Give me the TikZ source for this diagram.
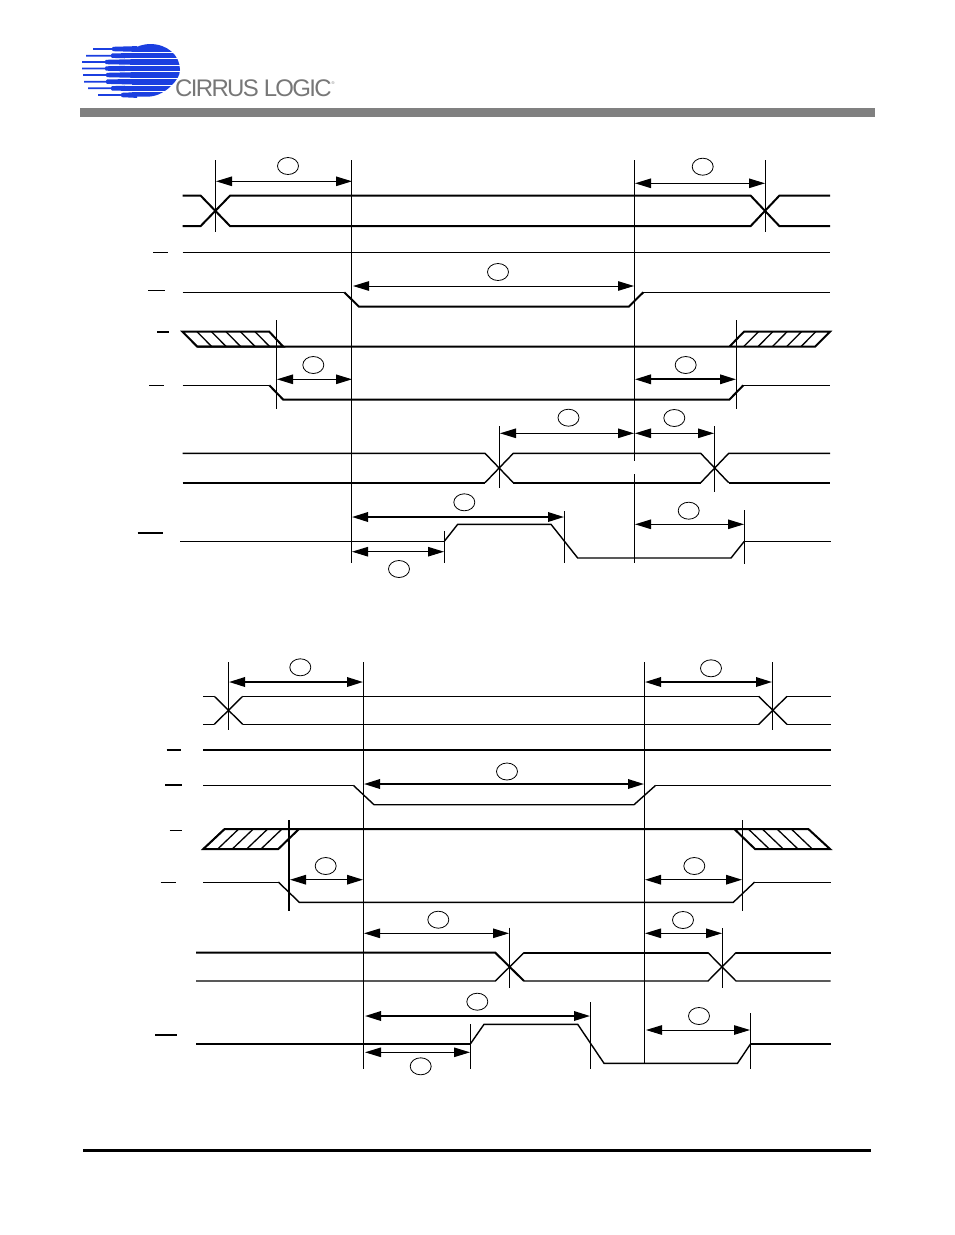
\documentclass[tikz,border=0pt]{standalone}
\usepackage{fontspec}
\setmainfont{Liberation Sans}
\usetikzlibrary{arrows.meta,shapes.geometric}
\definecolor{logoblue}{HTML}{1B3FE0}
\definecolor{logogray}{HTML}{777777}
\definecolor{bargray}{HTML}{808080}
\tikzset{
	wavethin/.style={line width=1pt, line join=miter},
	wavethick/.style={line width=2pt, line join=miter},
	guide/.style={line width=1pt},
	ring/.style={draw, ellipse, line width=.8pt, minimum width=21pt, minimum height=17pt, inner sep=0pt},
}
\begin{document}
\begin{tikzpicture}[x=1pt, y=-1pt, >={Stealth[inset=0pt,length=16pt,width=9.5pt]}]
	\useasboundingbox (0,0) rectangle (954,1235);
	
	% header
	\fill [bargray] (80,108) rectangle (875,117);
	\fill [black] (83,1148.7) rectangle (871,1151.7);
	
	% logo
	\fill [logoblue] (132,49) .. controls (138,46) and (144,44) .. (150,44)
		.. controls (167,44) and (180,55) .. (180,70)
		.. controls (180,76) and (176,81) .. (171,86)
		.. controls (166,91) and (158,96) .. (150,96.5)
		-- (132,96.5) -- cycle;
	\foreach \y/\xl/\xm in {49/93/112, 55.7/86/111, 62/82/105, 68.5/82/105, 75/83/106, 81.7/84/106, 88.3/88/111, 95/98/121}
	{
		\fill [logoblue] (\xl,\y-.9) -- (\xm,\y-.9) -- (\xm+1,\y-2.2) -- (137,\y-2.9) -- (137,\y+2.9) -- (\xm+1,\y+2.2) -- (\xm,\y+.9) -- (\xl,\y+.9) -- cycle;
	}
	\foreach \y in {52.4, 58.9, 65.3, 71.8, 78.4, 85, 91.7}
	\fill [white] (125,\y-.45) rectangle (181,\y+.45);
	\node [inner sep=0pt, anchor=base west, text=logogray, font=\fontsize{24}{24}\selectfont\addfontfeature{LetterSpace=-7}] (logo-text) at (175,96.5) {CIRRUS LOGIC};
	\node [inner sep=0pt, text=logogray, font=\fontsize{4}{4}\selectfont] (logo-reg) at (333,83) {®};
	
	% upper diagram, guides
	\foreach \n/\x/\ya/\yb in {a/215.3/160/231.7, b/351.5/160/562.7, c/634.3/160/461, d/634.3/474/563.3, e/765.3/160/231.7, f/276.3/320/409, g/736.3/320/409, h/499.3/426/488.3, i/714.3/426/491.7, j/444.3/531/563.3, k/564.3/511/563.3, l/744.3/510/563.7}
	{
		\coordinate (\n-top) at (\x,\ya);
		\coordinate (\n-bot) at (\x,\yb);
		\draw [guide] (\n-top) -- (\n-bot);
	}
	
	% lower diagram, guides
	\foreach \n/\x/\ya/\yb/\w in {m/228.3/662.3/730/1, n/363.3/662.3/1069/1, o/644.3/662.3/1063/1, p/772.3/662.3/730/1, q/288.7/820/910.7/1.7, r/742.3/820/910.7/1, s/509.3/927.7/987.7/1, t/722.3/928/988/1, u/470.3/1024/1069/1, v/590.3/1002/1069/1, w/750.5/1013/1069/1}
	{
		\coordinate (\n-top) at (\x,\ya);
		\coordinate (\n-bot) at (\x,\yb);
		\draw [guide, line width=\w pt] (\n-top) -- (\n-bot);
	}
	
	% upper diagram, signals
	\draw [wavethick] (182.5,195.7) -- (200.7,195.7) -- (230,226) -- (750.7,226) -- (779.3,195.7) -- (830,195.7);
	\draw [wavethick] (182.5,226) -- (200.7,226) -- (230,195.7) -- (750.7,195.7) -- (779.3,226) -- (830,226);
	\draw [wavethin] (182.5,252.3) -- (830,252.3);
	\draw [wavethin] (182.5,292.3) -- (344.3,292.3);
	\draw [wavethin] (643.3,292.3) -- (830,292.3);
	\draw [wavethick] (344.3,292.3) -- (359,306.7) -- (628.7,306.7) -- (643.3,292.3);
	\draw [wavethick] (182.5,331.7) -- (269.3,331.7) -- (283.3,346.7) -- (197.3,346.7) -- cycle;
	\draw [wavethick] (197.3,346.7) -- (815,346.7) -- (830,331.7) -- (744,331.7) -- (729.3,346.7);
	\foreach \k in {1,...,5}
	\draw [wavethin, line width=1.3pt] ({182.5+14.5*\k},331.7) -- ++(14.8,15);
	\foreach \k in {1,...,5}
	\draw [wavethin, line width=1.3pt] ({729.3+14.33*\k},346.7) -- ++(14.8,-15);
	\draw [wavethin] (182.5,385.3) -- (269.3,385.3);
	\draw [wavethin] (743.3,385.3) -- (830,385.3);
	\draw [wavethick] (269.3,385.3) -- (283.3,399.7) -- (729.3,399.7) -- (743.3,385.3);
	\draw [wavethin, line width=1.4pt] (182.5,453.3) -- (485,453.3) -- (513.3,482.7);
	\draw [wavethin, line width=1.4pt] (485,482.7) -- (513.3,453.3) -- (700.7,453.3) -- (728.7,482.7);
	\draw [wavethin, line width=1.4pt] (700.7,482.7) -- (728.7,453.3) -- (830,453.3);
	\draw [wavethick] (182.5,482.7) -- (485,482.7);
	\draw [wavethick] (513.3,482.7) -- (700.7,482.7);
	\draw [wavethick] (728.7,482.7) -- (830,482.7);
	\draw [wavethin] (180,541.3) -- (444.3,541.3);
	\draw [wavethin, line width=1.4pt] (444.3,541.3) -- (457.7,524.3) -- (551,524.3) -- (577.7,558) -- (731,558) -- (744.3,541.3);
	\draw [wavethin] (744.3,541.3) -- (831,541.3);
	
	% lower diagram, signals
	\draw [wavethin] (203.3,696.3) -- (214.3,696.3);
	\draw [wavethin] (203.3,724.3) -- (214.3,724.3);
	\draw [wavethin, line width=1.4pt] (214.3,696.3) -- (242.7,724.3);
	\draw [wavethin, line width=1.4pt] (214.3,724.3) -- (242.7,696.3);
	\draw [wavethin] (242.7,696.3) -- (758.7,696.3);
	\draw [wavethin] (242.7,724.3) -- (758.7,724.3);
	\draw [wavethin, line width=1.4pt] (758.7,696.3) -- (787,724.3);
	\draw [wavethin, line width=1.4pt] (758.7,724.3) -- (787,696.3);
	\draw [wavethin] (787,696.3) -- (830.7,696.3);
	\draw [wavethin] (787,724.3) -- (830.7,724.3);
	\draw [wavethick] (203.3,749.7) -- (830.7,749.7);
	\draw [wavethin] (203.3,785.3) -- (353.3,785.3);
	\draw [wavethin, line width=1.4pt] (353.3,785.3) -- (374,804.7) -- (634,804.7) -- (655.7,785.3);
	\draw [wavethin] (655.7,785.3) -- (830.7,785.3);
	\draw [wavethick] (299,829) -- (224.7,829) -- (203.3,849) -- (278.3,849) -- (299,829) -- (734.3,829) -- (755,849) -- (830,849) -- (808.3,829) -- (734.3,829);
	\foreach \x in {203.3,217.7,232.3,246.7,261}
	\draw [wavethin, line width=1.3pt] (\x,849) -- ++(21,-20);
	\foreach \x in {748.3,762.3,777,791.3}
	\draw [wavethin, line width=1.3pt] (\x,829) -- ++(21,20);
	\draw [wavethin] (203.3,882) -- (278.3,882);
	\draw [wavethin, line width=1.4pt] (278.3,882) -- (299.3,902.3) -- (733.3,902.3) -- (754.7,882);
	\draw [wavethin] (754.7,882) -- (830.7,882);
	\draw [wavethick] (196,952.7) -- (495.3,952.7) -- (524,981);
	\draw [wavethin, line width=1.4pt] (196,981) -- (495.3,981) -- (524,952.7);
	\draw [wavethick] (524,952.7) -- (708,952.7);
	\draw [wavethin, line width=1.4pt] (524,981) -- (708,981) -- (736,952.7);
	\draw [wavethin, line width=1.4pt] (708,952.7) -- (736,981) -- (830.7,981);
	\draw [wavethick] (736,952.7) -- (830.7,952.7);
	\draw [wavethick] (196,1044) -- (470.3,1044);
	\draw [wavethin, line width=1.4pt] (470.3,1044) -- (484,1024.3) -- (577.7,1024.3) -- (604,1063.3) -- (737.5,1063.3) -- (750.5,1044);
	\draw [wavethick] (750.5,1044) -- (831,1044);
	
	% bars over the pin names
	\foreach \xa/\xb/\yb/\w in {153.3/168/252.3/1, 148.3/165/290.3/1, 157.3/169/331.7/2, 149/164/385.3/1, 137.7/163/532.7/1.8, 166.7/181.3/749.7/2, 165.3/182/784.7/2, 169.7/182.3/830/1, 160.7/176/882/1, 155/177/1034.7/2}
	\draw [line width=\w pt] (\xa,\yb) -- (\xb,\yb);
	
	% timing arrows
	\foreach \n/\xa/\xb/\yd/\w in {t-1/216/352/181.3/1, t-2/635/765/183.3/1, t-3/353/634/286/1, t-4/277/352/379.3/1, t-5/635/736/379.3/1.8, t-6/500/634/433.3/1, t-7/635/714/433.3/1, t-8/352/564/517/1.8, t-9/352/444/551.7/1, t-10/635/744/524.3/1, t-11/229/363/682/1.8, t-12/645/772/682/1.8, t-13/364/644/784/1.8, t-14/290/363/879.7/1.4, t-15/645/742/879.7/1.4, t-16/364/509/933.3/1, t-17/645/722/933.3/1, t-18/365/590/1016/1.8, t-19/365/470/1052.3/1, t-20/646/750/1030/1}
	{
		\coordinate (\n-l) at (\xa,\yd);
		\coordinate (\n-r) at (\xb,\yd);
		\draw [<->, line width=\w pt] (\n-l) -- (\n-r);
	}
	
	% circles
	\foreach \x/\y [count=\i] in {288/166, 702.7/166.7, 498/272, 313.3/365, 685.7/365, 568.5/417.7, 674.3/418, 464.3/502.3, 399/569, 688.7/510.7, 300.3/667.3, 711/668.3, 507/771.5, 325.7/866, 694.3/866, 438.3/919.7, 683/920, 477.3/1001.7, 420.7/1066.3, 699/1016}
	\node [ring] (ring-\i) at (\x,\y) {};
\end{tikzpicture}
\end{document}
